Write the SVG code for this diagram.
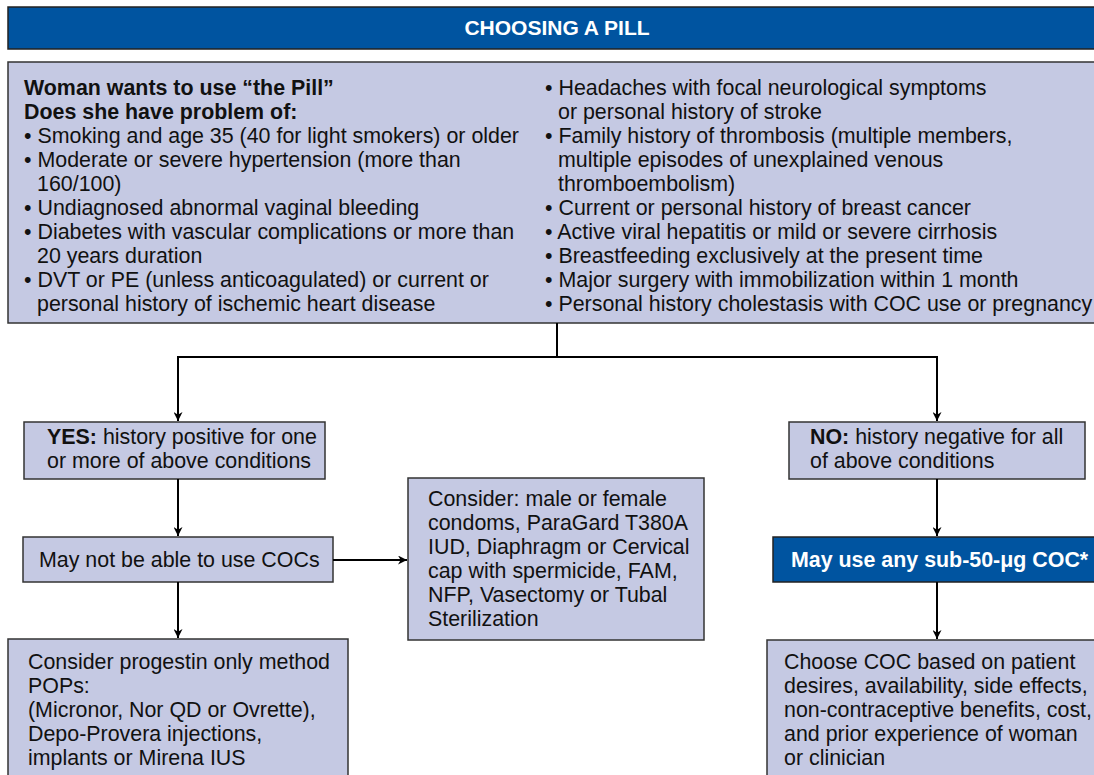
<svg xmlns="http://www.w3.org/2000/svg" width="1094" height="775" viewBox="0 0 1094 775">
<defs>
<style>
.box{fill:#c5c9e3;stroke:#333;stroke-width:1.5}
.blue{fill:#0054a0;stroke:#222;stroke-width:1.5}
text{font-family:"Liberation Sans",Arial,sans-serif;font-size:21.4px;fill:#111}
.b{font-weight:bold}
.w{fill:#fff;font-weight:bold}
.ln{fill:none;stroke:#000;stroke-width:2}
</style>
<marker id="ah" viewBox="0 0 10 10" refX="10" refY="5" markerWidth="9" markerHeight="9" markerUnits="userSpaceOnUse" orient="auto">
<path d="M0,0 L10,5 L0,10 L3,5 z" fill="#000"/>
</marker>
</defs>
<rect width="1094" height="775" fill="#fff"/>
<g id="title">
<rect class="blue" x="8" y="7" width="1090" height="42"/>
<text class="w" x="557" y="35" text-anchor="middle" style="font-size:21px">CHOOSING A PILL</text>
</g>
<g id="criteria">
<rect class="box" x="8" y="62" width="1090" height="261"/>
<text class="b" x="24" y="95">Woman wants to use “the Pill”</text>
<text class="b" x="24" y="119">Does she have problem of:</text>
<text x="24" y="143">• Smoking and age 35 (40 for light smokers) or older</text>
<text x="24" y="167">• Moderate or severe hypertension (more than</text>
<text x="37" y="191">160/100)</text>
<text x="24" y="215">• Undiagnosed abnormal vaginal bleeding</text>
<text x="24" y="239">• Diabetes with vascular complications or more than</text>
<text x="37" y="263">20 years duration</text>
<text x="24" y="287">• DVT or PE (unless anticoagulated) or current or</text>
<text x="37" y="311">personal history of ischemic heart disease</text>
<text x="545" y="95">• Headaches with focal neurological symptoms</text>
<text x="558" y="119">or personal history of stroke</text>
<text x="545" y="143">• Family history of thrombosis (multiple members,</text>
<text x="558" y="167">multiple episodes of unexplained venous</text>
<text x="558" y="191">thromboembolism)</text>
<text x="545" y="215">• Current or personal history of breast cancer</text>
<text x="545" y="239">• Active viral hepatitis or mild or severe cirrhosis</text>
<text x="545" y="263">• Breastfeeding exclusively at the present time</text>
<text x="545" y="287">• Major surgery with immobilization within 1 month</text>
<text x="545" y="311">• Personal history cholestasis with COC use or pregnancy</text>
</g>
<g id="yes">
<rect class="box" x="24" y="422" width="301" height="57"/>
<text x="47" y="444"><tspan class="b">YES:</tspan> history positive for one</text>
<text x="47" y="468">or more of above conditions</text>
</g>
<g id="no">
<rect class="box" x="789" y="422" width="296" height="57"/>
<text x="810" y="444"><tspan class="b">NO:</tspan> history negative for all</text>
<text x="810" y="468">of above conditions</text>
</g>
<g id="maynot">
<rect class="box" x="23" y="537" width="310" height="45"/>
<text x="39" y="567">May not be able to use COCs</text>
</g>
<g id="alternatives">
<rect class="box" x="408" y="478" width="296" height="162"/>
<text x="428" y="506">Consider: male or female</text>
<text x="428" y="530">condoms, ParaGard T380A</text>
<text x="428" y="554">IUD, Diaphragm or Cervical</text>
<text x="428" y="578">cap with spermicide, FAM,</text>
<text x="428" y="602">NFP, Vasectomy or Tubal</text>
<text x="428" y="626">Sterilization</text>
</g>
<g id="mayuse">
<rect class="blue" x="773" y="537" width="325" height="45"/>
<text class="w" x="791" y="567">May use any sub-50-μg COC*</text>
</g>
<g id="progestin">
<rect class="box" x="8" y="639" width="340" height="140"/>
<text x="28" y="669">Consider progestin only method</text>
<text x="28" y="693">POPs:</text>
<text x="28" y="717">(Micronor, Nor QD or Ovrette),</text>
<text x="28" y="741">Depo-Provera injections,</text>
<text x="28" y="765">implants or Mirena IUS</text>
</g>
<g id="choose">
<rect class="box" x="767" y="640" width="330" height="140"/>
<text x="784" y="669">Choose COC based on patient</text>
<text x="784" y="693">desires, availability, side effects,</text>
<text x="784" y="717">non-contraceptive benefits, cost,</text>
<text x="784" y="741">and prior experience of woman</text>
<text x="784" y="765">or clinician</text>
</g>
<g id="connectors">
<path class="ln" d="M557,323 V357"/>
<path class="ln" d="M178,357 H937"/>
<path class="ln" d="M178,356 V421" marker-end="url(#ah)"/>
<path class="ln" d="M937,356 V421" marker-end="url(#ah)"/>
<path class="ln" d="M178,479 V536" marker-end="url(#ah)"/>
<path class="ln" d="M333,560 H407" marker-end="url(#ah)"/>
<path class="ln" d="M178,582 V638" marker-end="url(#ah)"/>
<path class="ln" d="M937,479 V536" marker-end="url(#ah)"/>
<path class="ln" d="M937,582 V639" marker-end="url(#ah)"/>
</g>
</svg>
